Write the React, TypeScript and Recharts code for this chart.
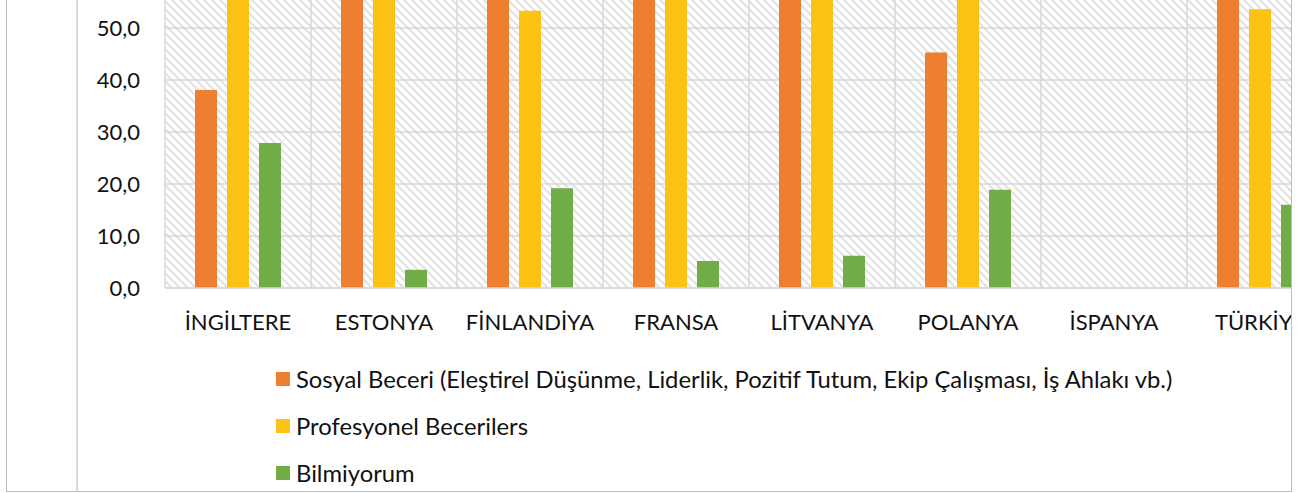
import { Bar, BarChart, CartesianGrid, Legend, XAxis, YAxis } from "recharts";

const countries = ["İNGİLTERE", "ESTONYA", "FİNLANDİYA", "FRANSA", "LİTVANYA", "POLANYA", "İSPANYA", "TÜRKİYE"];
const sosyalBeceri = [38.1, 62.0, 63.5, 68.4, 65.6, 45.3, 0, 62.9];
const profesyonel = [61.9, 66.0, 53.3, 60.5, 64.1, 57.4, 0, 53.6];
const bilmiyorum = [27.9, 3.5, 19.2, 5.2, 6.2, 18.9, 0, 16.0];
const seriesNames = [
  "Sosyal Beceri (Eleştirel Düşünme, Liderlik, Pozitif Tutum, Ekip Çalışması, İş Ahlakı vb.)",
  "Profesyonel Becerilers",
  "Bilmiyorum",
];
const yTicks = [0, 10, 20, 30, 40, 50];

const colors = ["#ee7f30", "#fcc214", "#70ad47"];
const FONT = "Lato, 'Open Sans', sans-serif";

const data = countries.map((country, i) => ({
  country,
  sosyal: sosyalBeceri[i],
  profesyonel: profesyonel[i],
  bilmiyorum: bilmiyorum[i],
}));

const fmt = (v: number) => v.toFixed(1).replace(".", ",");

function LegendList(props: any) {
  const items = [...(props.payload || [])].sort(
    (a: any, b: any) => seriesNames.indexOf(a.value) - seriesNames.indexOf(b.value)
  );
  return (
    <div style={{ display: "flex", flexDirection: "column" }}>
      {items.map((it: any) => (
        <div key={it.value} style={{ height: 47, display: "flex", alignItems: "center", whiteSpace: "nowrap" }}>
          <span style={{ width: 14, height: 14, background: it.color, marginRight: 6, display: "inline-block" }} />
          <span style={{ fontSize: 23.8, color: "#111" }}>{it.value}</span>
        </div>
      ))}
    </div>
  );
}

export default function App() {
  return (
    <div style={{ position: "absolute", left: 0, top: 0, width: 1305, height: 493, background: "#fff", fontFamily: FONT }}>
      <svg width={0} height={0} style={{ position: "absolute" }}>
        <defs>
          <pattern id="hatch" width={8} height={8} patternUnits="userSpaceOnUse">
            <rect width={8} height={8} fill="#ffffff" />
            <path d="M-2,-2 L10,10 M-2,6 L2,10 M6,-2 L10,2" stroke="#e2e2e2" strokeWidth={2} />
          </pattern>
        </defs>
      </svg>
      <div
        style={{
          position: "absolute",
          left: 6,
          top: -10,
          width: 1286,
          height: 502,
          border: "1px solid #bdbdbd",
          boxSizing: "border-box",
          overflow: "hidden",
        }}
      >
        <div style={{ position: "absolute", left: 69, top: 0, width: 2, height: "100%", background: "#d9d9d9" }} />
        <div style={{ position: "absolute", left: -7, top: -67 }}>
          <BarChart
            width={1340}
            height={570}
            data={data}
            margin={{ top: 0, right: 7, bottom: 166, left: 0 }}
            barCategoryGap={30}
            barGap={10}
          >
            <CartesianGrid
              fill="url(#hatch)"
              fillOpacity={1}
              stroke="#d9d9d9"
              strokeWidth={1.5}
              verticalCoordinatesGenerator={({ offset }: any) =>
                countries.map((_, i) => offset.left + (i * offset.width) / countries.length).concat(offset.left + offset.width)
              }
            />
            <XAxis
              dataKey="country"
              interval={0}
              height={40}
              tickLine={false}
              tickSize={0}
              tickMargin={26}
              axisLine={{ stroke: "#d9d9d9", strokeWidth: 1.5 }}
              tick={{ fill: "#111", fontSize: 22 }}
            />
            <YAxis
              width={165}
              domain={[0, 70]}
              ticks={yTicks}
              tickFormatter={fmt}
              axisLine={false}
              tickLine={false}
              tickSize={0}
              tickMargin={25}
              tick={{ fill: "#111", fontSize: 22 }}
            />
            <Legend
              layout="vertical"
              verticalAlign="middle"
              align="center"
              content={LegendList}
              wrapperStyle={{ left: 276, top: 431, width: "auto" }}
            />
            <Bar dataKey="sosyal" name={seriesNames[0]} fill={colors[0]} isAnimationActive={false} />
            <Bar dataKey="profesyonel" name={seriesNames[1]} fill={colors[1]} isAnimationActive={false} />
            <Bar dataKey="bilmiyorum" name={seriesNames[2]} fill={colors[2]} isAnimationActive={false} />
          </BarChart>
        </div>
      </div>
    </div>
  );
}
